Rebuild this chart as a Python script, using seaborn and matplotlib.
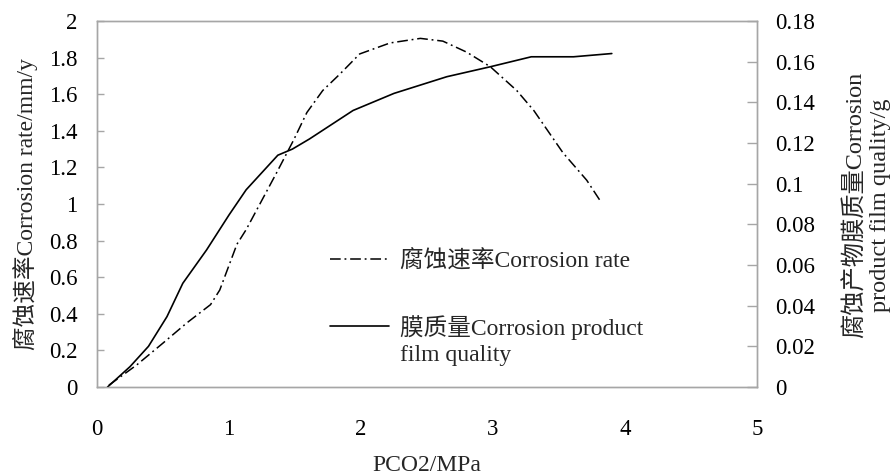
import numpy as np
import pandas as pd
import matplotlib
matplotlib.use("Agg")
import matplotlib.pyplot as plt
import seaborn as sns
from matplotlib.legend_handler import HandlerLine2D

# ---- data ----
rate_x = [0.09, 0.30, 0.50, 0.68, 0.86, 0.93, 1.06, 1.13, 1.36, 1.49, 1.59, 1.71,
          1.84, 1.99, 2.22, 2.45, 2.62, 2.80, 2.98, 3.18, 3.31, 3.53, 3.71, 3.81]
rate_y = [0.01, 0.12, 0.24, 0.35, 0.45, 0.53, 0.78, 0.86, 1.17, 1.35, 1.50, 1.62,
          1.71, 1.82, 1.88, 1.905, 1.89, 1.83, 1.75, 1.62, 1.51, 1.28, 1.13, 1.02]

film_x = [0.08, 0.25, 0.39, 0.53, 0.65, 0.83, 1.00, 1.13, 1.37, 1.48, 1.61, 1.94,
          2.25, 2.65, 2.98, 3.29, 3.61, 3.90]
film_y = [0.000, 0.010, 0.020, 0.0346, 0.051, 0.0674, 0.0846, 0.097, 0.114, 0.117,
          0.122, 0.136, 0.1444, 0.1526, 0.1575, 0.1624, 0.1624, 0.164]

x_ticks = [0, 1, 2, 3, 4, 5]
left_ticks = [0, 0.2, 0.4, 0.6, 0.8, 1, 1.2, 1.4, 1.6, 1.8, 2]
left_labels = ["0", "0.2", "0.4", "0.6", "0.8", "1", "1.2", "1.4", "1.6", "1.8", "2"]
right_ticks = [0, 0.02, 0.04, 0.06, 0.08, 0.10, 0.12, 0.14, 0.16, 0.18]
right_labels = ["0", "0.02", "0.04", "0.06", "0.08", "0.1", "0.12", "0.14", "0.16", "0.18"]

rate_label = "腐蚀速率Corrosion rate"
film_label = "膜质量Corrosion product\nfilm quality"
xlabel = "PCO2/MPa"
ylabel_left = "腐蚀速率Corrosion rate/mm/y"
ylabel_right = "腐蚀产物膜质量Corrosion\nproduct film quality/g"

rate_df = pd.DataFrame({"x": rate_x, "y": rate_y})
film_df = pd.DataFrame({"x": film_x, "y": film_y})

sns.set_theme(style="white")
plt.rcParams["font.family"] = ["Liberation Serif", "Noto Sans CJK SC"]
plt.rcParams["axes.unicode_minus"] = False

fig = plt.figure(figsize=(8.95, 4.76), dpi=100)
ax = fig.add_axes([97 / 895, 1 - 387 / 476, 660 / 895, 366 / 476])
ax2 = ax.twinx()

sns.lineplot(data=rate_df, x="x", y="y", ax=ax, color="black", lw=1.1,
             linestyle=(0, (7, 2.5, 1.2, 2.5)), label=rate_label, legend=False)
sns.lineplot(data=film_df, x="x", y="y", ax=ax2, color="black", lw=1.2,
             label=film_label, legend=False)

frame_c = "#a6a6a6"
for a in (ax, ax2):
    for s in a.spines.values():
        s.set_color(frame_c)
        s.set_linewidth(1.0)

ax.set_xlim(0, 5)
ax.set_ylim(0, 2)
ax2.set_ylim(0, 0.18)
ax.set_xticks(x_ticks)
ax.set_xticklabels([str(v) for v in x_ticks])
ax.set_yticks(left_ticks)
ax.set_yticklabels(left_labels)
ax2.set_yticks(right_ticks)
ax2.set_yticklabels(right_labels)

ax.tick_params(axis="x", direction="in", length=6, width=1, color=frame_c,
               labelsize=16.5, pad=23, labelcolor="black")
ax.tick_params(axis="y", direction="in", length=5, width=1, color=frame_c,
               labelsize=16.5, pad=14, labelcolor="black")
ax2.tick_params(axis="y", direction="in", length=7, width=1, color=frame_c,
                labelsize=16.5, pad=13, labelcolor="black")

ax.set_xlabel(xlabel, fontsize=17)
ax.xaxis.set_label_coords(0.5, -0.185)
ax.set_ylabel(ylabel_left, fontsize=17)
ax.yaxis.set_label_coords(-0.089, 0.5)
ax2.set_ylabel(ylabel_right, fontsize=17.5, multialignment="center", linespacing=1.2)
ax2.yaxis.set_label_coords(1.131, 0.497)


class ShiftedHandler(HandlerLine2D):
    def __init__(self, dy=0.0, **kw):
        super().__init__(**kw)
        self.dy = dy

    def create_artists(self, legend, orig_handle, xdescent, ydescent, width,
                       height, fontsize, trans):
        arts = super().create_artists(legend, orig_handle, xdescent, ydescent,
                                      width, height, fontsize, trans)
        for a in arts:
            if hasattr(a, "get_ydata"):
                a.set_ydata(np.asarray(a.get_ydata(), dtype=float) + self.dy)
        return arts


h1 = ax.get_lines()[0]
h2 = ax2.get_lines()[0]
leg = ax2.legend([h1, h2], [rate_label, film_label], loc="upper left",
                 bbox_to_anchor=(0.353, 0.374), frameon=False, fontsize=17,
                 handlelength=2.5, handletextpad=0.45, labelspacing=1.8,
                 borderpad=0, borderaxespad=0,
                 handler_map={h2: ShiftedHandler(dy=10.0)})
leg.get_texts()[1].set_linespacing(1.3)

fig.savefig("out.png", dpi=100)
